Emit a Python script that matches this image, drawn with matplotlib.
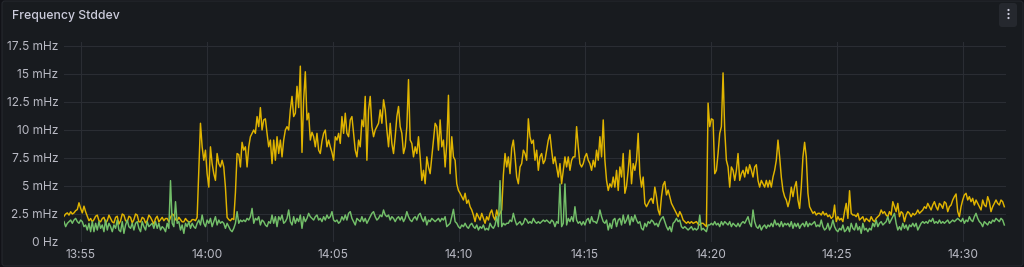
import numpy as np
import matplotlib
matplotlib.use("Agg")
import matplotlib.pyplot as plt
import matplotlib.dates as mdates
from matplotlib.patches import FancyBboxPatch, Circle
from matplotlib.ticker import FixedLocator, FixedFormatter
import datetime as dt

# ---------------- data ----------------
title = "Frequency Stddev"
t_start = dt.datetime(2024, 1, 1, 13, 54, 20)
t_end = dt.datetime(2024, 1, 1, 14, 31, 38)
x_view_end = dt.datetime(2024, 1, 1, 14, 31, 42)

# yellow series (mHz), ~4 s samples
stddev_a = [
    2.3, 2.5, 2.6, 2.4, 2.7, 2.5, 2.6, 2.8, 2.9, 3.5,
    3.0, 2.6, 3.2, 2.7, 2.3, 1.9, 2.1, 1.8, 2.0, 2.3,
    2.4, 1.9, 1.8, 2.1, 2.2, 1.7, 1.9, 2.4, 2.1, 1.8,
    1.7, 2.2, 2.3, 1.6, 1.9, 2.5, 2.4, 1.9, 1.8, 2.3,
    2.2, 1.7, 2.0, 2.5, 2.4, 1.8, 1.8, 2.2, 2.1, 1.7,
    1.9, 2.4, 2.2, 1.9, 1.6, 2.1, 2.3, 1.8, 2.0, 2.2,
    1.9, 2.1, 2.1, 1.8, 2.2, 2.5, 2.4, 2.0, 1.9, 2.2,
    2.0, 1.8, 1.8, 2.1, 1.9, 1.8, 1.8, 2.0, 2.0, 1.9,
    2.2, 6.5,
    10.6, 8.5, 7.3, 8.2, 6.1, 4.9, 8.5, 7.0, 6.1, 5.5,
    7.9, 7.0, 6.7, 7.3, 6.7, 4.9, 2.2, 2.0, 1.9, 2.1,
    2.0, 4.4, 7.9, 7.8, 6.7, 8.9, 8.2, 8.5, 6.7, 8.5,
    9.4, 9.7, 10.0, 9.7, 11.2, 10.3, 12.0, 10.0, 10.9, 11.0,
    9.7, 8.5, 9.1, 7.0, 9.1, 7.3, 9.4, 7.9, 9.1, 7.6,
    9.1, 10.0, 10.3, 10.0, 11.8, 13.0, 11.2, 11.5, 13.9, 12.0,
    15.7, 8.0, 12.7, 15.2, 10.9, 11.5, 9.1, 9.8, 9.4, 8.5,
    9.7, 8.2, 7.9, 9.0, 9.7, 10.0, 8.5, 9.1,
    8.5, 8.0, 7.3, 9.4, 9.1, 9.7, 8.8, 11.2, 9.7, 11.5,
    9.7, 9.4, 10.9, 11.2, 9.7, 8.2, 7.6, 9.1, 8.5, 10.9,
    10.3, 13.0, 7.3, 11.8, 13.0, 10.3, 9.4, 10.0, 10.3, 10.6,
    11.8, 10.6, 12.7, 11.8, 10.0, 8.5, 10.6, 8.8, 7.9, 9.4,
    11.2, 12.1, 10.3, 9.7, 7.9, 8.5, 10.3, 14.5, 9.1, 8.8,
    7.6, 8.5, 7.9, 9.4, 7.6, 5.5, 6.4, 5.2, 7.6, 6.7,
    6.1, 7.6, 9.1, 10.6, 10.3, 8.2, 10.9, 8.5, 9.1, 6.7,
    8.8, 13.1, 6.1, 9.4, 7.6, 7.3, 5.2, 4.6, 4.35, 4.05,
    3.75, 4.35, 3.45, 3.75, 3.15, 2.86, 2.41, 1.82, 2.56, 2.26,
    1.96, 2.56, 2.1, 1.67, 2.26, 1.96, 2.56, 2.86, 2.26, 1.96,
    2.86, 2.26, 2.56, 2.86, 6.0, 7.9, 6.7, 7.6, 6.1, 8.4,
    9.1, 7.6, 5.8, 5.2, 6.7, 7.0, 8.2, 7.9, 7.3, 11.0,
    9.4, 8.8, 9.1, 7.3, 8.2, 6.4, 7.6, 7.9, 7.0, 7.3,
    8.2, 9.1, 9.6, 8.2, 7.0, 7.6, 6.7, 5.8, 7.0, 5.2,
    6.4, 7.6, 6.7, 7.6, 6.4, 7.3, 7.6, 7.6, 10.3, 8.5,
    7.0, 6.7, 7.0, 7.6, 7.9, 7.3, 7.0, 6.4, 7.3, 6.7,
    8.2, 7.3, 9.4, 7.6, 10.9, 7.3, 5.5, 4.6, 5.2, 4.9,
    5.8, 4.9, 6.4, 4.6, 6.7, 5.8, 7.9, 4.35, 5.0, 6.4,
    8.2, 5.2, 7.0, 6.4, 7.3, 9.7, 6.1, 4.9, 5.8, 3.45,
    3.15, 3.45, 3.75, 3.9, 3.45, 4.9, 4.05, 2.86, 2.41, 4.05,
    5.1, 5.4, 4.2, 4.64, 4.05, 3.45, 3.15, 2.86, 2.56, 2.26,
    2.71, 2.41, 1.96, 1.82, 1.67, 1.82, 1.67, 1.82, 1.67, 1.75,
    1.82, 1.6, 1.52, 1.67, 1.67, 1.52, 1.37, 12.4, 10.3, 11.0,
    10.9, 6.1, 6.4, 7.9, 9.7, 10.3, 15.1, 10.0, 7.3, 6.7,
    4.9, 6.7, 6.4, 5.5, 6.4, 7.9, 5.5, 6.1, 6.4, 5.8,
    6.7, 6.1, 6.9, 6.4, 5.8, 6.7, 6.9, 5.5, 4.9, 5.5,
    5.2, 4.9, 5.5, 4.9, 5.5, 4.9, 5.8, 6.4, 7.3, 9.1,
    7.6, 5.8, 4.6, 4.05, 3.75, 3.15, 3.75, 4.9, 4.05, 4.9,
    5.4, 3.75, 3.0, 4.9, 7.6, 8.9, 7.6, 4.35, 3.15, 2.86,
    2.56, 2.71, 2.41, 2.56, 2.56, 2.41, 2.71, 2.41, 2.56, 2.26,
    2.41, 2.11, 2.26, 3.3, 1.82, 2.26, 1.96, 2.11, 1.82, 2.71,
    3.45, 2.11, 4.58, 2.56, 2.41, 2.41, 2.26, 2.56, 1.96, 2.11,
    2.26, 1.82, 2.11, 1.96, 1.82, 2.26, 1.96, 1.82, 2.11, 2.26,
    2.41, 2.86, 2.56, 2.71, 2.41, 2.26, 2.71, 2.41, 3.6, 3.15,
    2.71, 3.45, 2.26, 2.71, 2.56, 1.82, 2.41, 2.71, 2.56, 2.26,
    2.56, 2.41, 2.56, 2.86, 2.56, 2.71, 2.86, 3.15, 3.0, 3.45,
    3.15, 2.86, 3.3, 3.6, 3.15, 2.86, 3.45, 3.3, 3.0, 3.6,
    3.45, 2.71, 3.15, 3.3, 3.75, 4.05, 4.29, 2.71, 2.26, 3.15,
    3.75, 4.2, 4.35, 3.75, 4.05, 3.6, 3.9, 3.3, 3.75, 3.45,
    3.15, 2.86, 3.75, 3.3, 3.15, 4.05, 3.6, 2.71, 3.15, 3.45,
    3.75, 3.45, 3.3, 3.75, 3.6, 3.15,
]

# green series (mHz), same timestamps
stddev_b = [
    1.82, 1.37, 1.67, 1.82, 1.96, 1.67, 1.96, 2.11, 1.82, 1.67,
    1.96, 1.82, 1.37, 1.52, 1.07, 1.67, 0.92, 1.82, 0.92, 1.67,
    1.07, 1.82, 1.22, 1.52, 0.92, 1.96, 1.07, 1.67, 1.37, 0.92,
    1.52, 1.22, 1.96, 1.07, 0.92, 1.82, 0.77, 1.52, 1.96, 1.37,
    1.22, 1.67, 1.07, 1.67, 1.82, 1.22, 0.92, 1.82, 1.37, 1.07,
    1.82, 1.37, 1.52, 1.67, 1.22, 1.82, 1.22, 1.67, 1.07, 1.37,
    1.22, 0.92, 1.67, 1.22, 5.48, 1.67, 1.37, 3.6, 1.67, 1.82,
    1.07, 1.52, 0.77, 1.67, 1.37, 1.82, 1.22, 1.67, 1.37, 1.22,
    1.67, 1.96, 1.52, 2.41, 1.67, 1.37, 1.96, 1.67, 2.11, 1.37,
    1.82, 2.26, 1.52, 1.96, 1.67, 1.82, 1.67, 1.22, 1.67, 1.37,
    1.07, 0.92, 1.22, 1.67, 2.71, 1.67, 1.96, 1.82, 1.96, 1.82,
    2.11, 1.96, 2.26, 3.0, 1.67, 2.11, 1.96, 2.26,
    1.52, 1.96, 1.82, 1.52, 1.37, 1.82, 1.67, 2.41, 1.67, 2.26,
    1.37, 2.26, 1.96, 2.41, 1.67, 1.82, 2.11, 2.86, 1.82, 1.52,
    2.26, 1.67, 2.11, 1.82, 2.41, 1.22, 2.26, 1.82, 2.11, 2.56,
    2.26, 2.11, 1.96, 2.26, 2.41, 1.96, 2.11, 1.82, 2.26, 1.96,
    2.41, 2.11, 2.26, 2.71, 1.96, 1.82, 1.96, 1.67, 1.82, 2.26,
    1.96, 2.41, 1.96, 2.56, 2.71, 2.11, 1.82, 1.52, 2.11, 1.96,
    1.82, 2.26, 1.82, 2.11, 1.67, 1.96, 2.26, 2.56, 2.71, 2.26,
    1.96, 2.11, 2.41, 2.26, 2.86, 2.41, 2.26, 2.41, 1.96, 2.26,
    2.11, 1.82, 2.11, 2.26, 1.96, 2.26, 1.82, 2.11, 2.71, 2.26,
    1.96, 1.82, 2.11, 2.26, 1.96, 2.41, 2.56, 2.11, 1.82, 2.26,
    1.52, 1.96, 1.82, 2.11, 1.96, 1.82, 1.96, 2.11, 1.82, 2.11,
    1.96, 2.26, 1.37, 1.52,
    1.67, 2.26, 2.92, 1.82, 1.67, 1.37, 1.22, 1.52, 1.37, 1.67,
    1.37, 1.22, 1.52, 1.67, 1.37, 1.22, 1.52, 1.07, 1.37, 1.22,
    1.52, 1.07, 1.22, 1.07, 1.67, 1.37, 1.22, 1.52, 2.26, 1.37,
    5.48, 1.37, 1.67, 1.52, 1.67, 1.67, 1.96, 1.82, 2.56, 1.96,
    1.52, 1.67, 1.82, 1.52, 1.67, 2.11, 1.96, 1.67, 1.82, 1.67,
    2.11, 1.82, 1.67, 1.82, 1.67, 1.82, 1.96, 1.82, 1.96, 1.82,
    1.67, 1.96, 1.82, 1.37, 1.82, 1.67, 5.18, 1.37, 1.67, 5.18,
    1.52, 2.11, 1.82, 2.26, 1.82, 3.15, 1.96, 1.67, 1.82, 1.52,
    1.82, 1.52, 1.96, 2.11, 1.67, 2.26, 1.82, 1.82, 1.67, 2.11,
    2.86, 2.26, 1.82, 1.67, 1.96, 1.07, 1.67, 1.22, 1.96, 2.11,
    1.37, 1.96, 2.11, 1.52, 2.41, 1.67, 1.96, 2.41, 1.52, 2.26,
    1.82, 2.41, 1.96, 1.67,
    1.82, 1.22, 1.07, 1.67, 1.37, 1.82, 1.67, 1.96, 1.82, 1.52,
    1.67, 1.37, 1.82, 2.11, 2.26, 1.82, 1.37, 1.07, 1.37, 0.92,
    1.67, 1.82, 2.11, 1.82, 1.96, 1.37, 1.22, 1.37, 1.22, 1.07,
    1.22, 1.37, 1.07, 1.22, 1.07, 1.22, 2.41, 1.07, 1.22, 1.07,
    0.92, 1.52, 1.52, 1.67, 1.52, 1.82, 1.52, 1.67, 1.37, 1.82,
    1.52, 1.82, 1.67, 1.52, 1.82, 1.37, 1.67, 1.52, 1.37, 1.67,
    1.37, 1.67, 1.82, 1.67, 1.96, 2.26, 1.67, 1.37, 2.86, 1.82,
    1.37, 1.22, 1.52, 1.07, 1.37, 1.52, 1.22, 1.52, 1.37, 1.67,
    1.37, 1.96, 1.52, 1.67, 1.37, 1.82, 1.37, 1.67, 1.52, 1.67,
    1.37, 1.82, 1.22, 1.67, 1.37, 1.67, 1.22, 1.52, 1.67, 1.37,
    1.82, 1.37, 1.67, 1.52, 1.67, 1.82, 1.37, 1.52, 1.37, 1.96,
    1.37, 1.07, 1.22, 1.67,
    1.07, 1.37, 1.96, 1.37, 1.07, 0.92, 1.22, 1.07, 1.52, 0.92,
    1.07, 1.37, 0.92, 1.67, 1.22, 1.07, 1.67, 1.07, 1.37, 0.77,
    1.67, 1.07, 1.22, 0.92, 1.22, 1.07, 1.67, 1.37, 1.96, 1.37,
    1.67, 1.82, 1.52, 1.67, 1.82, 2.26, 1.67, 1.96, 2.26, 2.56,
    1.67, 1.07, 1.37, 1.07, 1.67, 1.22, 1.52, 1.07, 1.52, 1.37,
    1.67, 1.37, 1.67, 1.07, 1.37, 1.67, 1.82, 1.67, 1.82, 1.67,
    1.96, 1.82, 2.11, 1.67, 1.82, 1.67, 1.96, 1.67, 1.82, 1.67,
    1.82, 1.96, 1.67, 1.82, 1.96, 1.82, 1.96, 2.11, 1.96, 1.82,
    2.11, 1.67, 1.96, 1.82, 2.26, 1.96, 1.82, 2.26, 2.56, 2.11,
    1.82, 1.67, 1.37, 1.82, 1.67, 1.52, 1.82, 1.67, 1.96, 1.82,
    2.11, 1.96, 1.82, 2.11, 1.96, 1.52,
]

y_ticks = [0, 2.5, 5, 7.5, 10, 12.5, 15, 17.5]
y_tick_labels = ["0 Hz", "2.5 mHz", "5 mHz", "7.5 mHz", "10 mHz",
                 "12.5 mHz", "15 mHz", "17.5 mHz"]
x_tick_labels = ["13:55", "14:00", "14:05", "14:10", "14:15", "14:20",
                 "14:25", "14:30"]

# ---------------- style ----------------
W, H = 1024, 267
OUTER_BG = "#111217"
PANEL_BG = "#181b1f"
PANEL_EDGE = "#25282e"
GRID = "#2a2d33"
TEXT = "#ccccdc"
TICK_TEXT = "#b9bac4"
YELLOW = "#e0b400"
GREEN = "#73bf69"
FONT = ["Inter", "DejaVu Sans"]

plt.rcParams["font.family"] = FONT

fig = plt.figure(figsize=(W / 100, H / 100), dpi=100)
fig.patch.set_facecolor(OUTER_BG)

# background panel drawn in pixel coordinates
bg = fig.add_axes([0, 0, 1, 1])
bg.set_xlim(0, W)
bg.set_ylim(H, 0)
bg.axis("off")
bg.add_patch(FancyBboxPatch((2, 1), W - 3, H - 2,
                            boxstyle="round,pad=0,rounding_size=3",
                            fc=PANEL_BG, ec=PANEL_EDGE, lw=0.8))
# menu button
bg.add_patch(FancyBboxPatch((999, 3), 18, 24,
                            boxstyle="round,pad=0,rounding_size=3",
                            fc="#25282e", ec="none"))
for yy in (10, 14, 18):
    bg.add_patch(Circle((1008.5, yy), 1.1, fc=TEXT, ec="none"))
bg.text(12, 15.5, title, color=TEXT, fontsize=8.8, fontweight="medium",
        va="center", ha="left", family=FONT)

# main plot area
left, right, top, bottom = 64, 1006, 42, 242
ax = fig.add_axes([left / W, (H - bottom) / H, (right - left) / W,
                   (bottom - top) / H])
ax.set_facecolor("none")
for s in ax.spines.values():
    s.set_visible(False)

times = np.linspace(mdates.date2num(t_start), mdates.date2num(t_end),
                    len(stddev_a))
ax.plot(times, stddev_a, color=YELLOW, lw=1.05, solid_joinstyle="round")
ax.plot(times, stddev_b, color=GREEN, lw=1.05, solid_joinstyle="round")

ax.set_xlim(mdates.date2num(t_start), mdates.date2num(x_view_end))
ax.set_ylim(0, 17.5 * 200 / 196)

ax.yaxis.set_major_locator(FixedLocator(y_ticks))
ax.yaxis.set_major_formatter(FixedFormatter(y_tick_labels))

x_tick_pos = [mdates.date2num(dt.datetime.combine(
    t_start.date(), dt.datetime.strptime(s, "%H:%M").time()))
    for s in x_tick_labels]
ax.xaxis.set_major_locator(FixedLocator(x_tick_pos))
ax.xaxis.set_major_formatter(FixedFormatter(x_tick_labels))

ax.tick_params(axis="both", length=0, labelsize=8.6, labelcolor=TICK_TEXT)
ax.tick_params(axis="y", pad=4)
ax.tick_params(axis="x", pad=5)
ax.grid(True, color=GRID, lw=0.8)
ax.set_axisbelow(True)

fig.savefig("out.png", dpi=100, facecolor=OUTER_BG)
